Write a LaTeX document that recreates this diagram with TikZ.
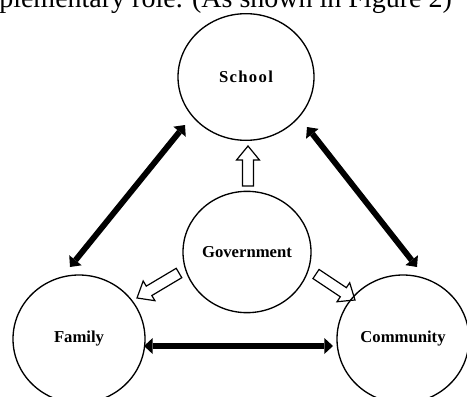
\documentclass[tikz,border=0pt]{standalone}
\usepackage{fontspec}
\setmainfont{Liberation Serif}
\usetikzlibrary{arrows.meta,calc,shapes.geometric}
\begin{document}
\begin{tikzpicture}[x=0.75pt,y=-0.75pt,
  actor/.style={draw, ellipse, line width=1pt, inner sep=0pt,
    font=\fontsize{12.5}{14}\selectfont\bfseries},
  link/.style={line width=4.4pt,
    {Triangle[length=6.5pt,width=12pt,line width=0pt]}-{Triangle[length=6.5pt,width=12pt,line width=0pt]}},
  hollow/.style={draw, line width=0.9pt, line join=miter, to path={
    let \p1=($(\tikztotarget)-(\tikztostart)$),
        \n1={atan2(\y1,\x1)},
        \n2={veclen(\x1,\y1)} in
    [shift={(\tikztostart)}, rotate=\n1]
    (0pt,-4.1pt) -- ({\n2*1pt-10.5pt},-4.1pt) -- ({\n2*1pt-10.5pt},-8.6pt)
    -- ({\n2*1pt},0pt) -- ({\n2*1pt-10.5pt},8.6pt) -- ({\n2*1pt-10.5pt},4.1pt)
    -- (0pt,4.1pt) -- cycle}}
]
\useasboundingbox (0,0) rectangle (467,396);
\clip (0,0) rectangle (467,396);

\node[anchor=base west, inner sep=0pt, font=\fontsize{21}{25}\selectfont] (cap) at (-1,7.5)
  {plementary role. (As shown in Figure 2)};

\node[actor, minimum width=102pt, minimum height=95pt] (school) at (246,77)
  {\addfontfeatures{LetterSpace=8}School};
\node[actor, minimum width=96pt, minimum height=91pt] (gov) at (247,252) {Government};
\node[actor, minimum width=99pt, minimum height=96pt] (family) at (79,339) {Family};
\node[actor, minimum width=99pt, minimum height=96pt] (comm) at (403,339) {Community};

% black double arrows
\coordinate (sf1) at (185,125);
\coordinate (sf2) at (70,267);
\coordinate (sc1) at (307,127);
\coordinate (sc2) at (417,267);
\coordinate (fc1) at (144,346);
\coordinate (fc2) at (333,346);
\draw[link] (sf1) -- (sf2);
\draw[link] (sc1) -- (sc2);
\draw[link] (fc1) -- (fc2);

% hollow arrows from government
\coordinate (gs1) at (248,186);
\coordinate (gs2) at (248,146);
\coordinate (gf1) at (179,273);
\coordinate (gf2) at (137,298);
\coordinate (gc1) at (316,274);
\coordinate (gc2) at (355,300);
\draw[hollow] (gs1) to (gs2);
\draw[hollow] (gf1) to (gf2);
\draw[hollow] (gc1) to (gc2);
\end{tikzpicture}
\end{document}
